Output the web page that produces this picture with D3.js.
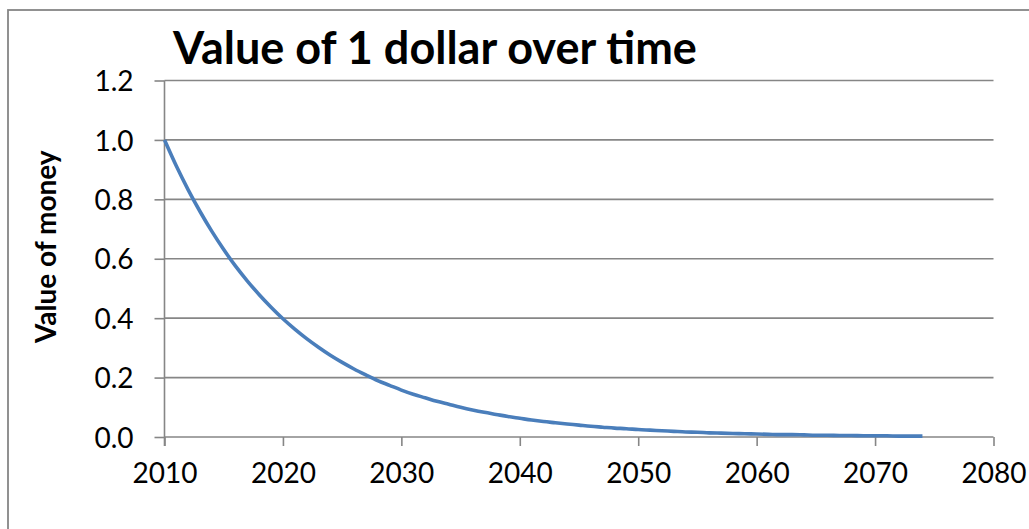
<!DOCTYPE html>
<html>
<head>
<meta charset="utf-8">
<script src="https://cdn.jsdelivr.net/npm/d3@7"></script>
<style>
  html, body { margin: 0; padding: 0; background: #ffffff; }
  svg { display: block; }
  text { font-family: Lato, "Open Sans", sans-serif; fill: #000; }
</style>
</head>
<body>
<svg id="chart" width="1029" height="529"></svg>
<script>
// Value of one dollar, one point per year from 2010 to 2074
const years = d3.range(2010, 2075);
const values = [
  1.000, 0.912, 0.832, 0.759, 0.692, 0.631, 0.575, 0.525, 0.479, 0.437,
  0.398, 0.363, 0.331, 0.302, 0.275, 0.251, 0.229, 0.209, 0.190, 0.174,
  0.158, 0.144, 0.132, 0.120, 0.110, 0.100, 0.091, 0.083, 0.076, 0.069,
  0.063, 0.057, 0.052, 0.048, 0.044, 0.040, 0.036, 0.033, 0.030, 0.028,
  0.025, 0.023, 0.021, 0.019, 0.017, 0.016, 0.014, 0.013, 0.012, 0.011,
  0.010, 0.009, 0.008, 0.008, 0.007, 0.006, 0.006, 0.005, 0.005, 0.004,
  0.004, 0.004, 0.003, 0.003, 0.003
];
const xTicks = [2010, 2020, 2030, 2040, 2050, 2060, 2070, 2080];
const yTicks = [0.0, 0.2, 0.4, 0.6, 0.8, 1.0, 1.2];
const titleText = "Value of 1 dollar over time";
const yAxisTitle = "Value of money";

const svg = d3.select("#chart");
const plot = { left: 164.5, right: 993.5, top: 80.5, bottom: 437 };
const gridColor = "#868686";
const tickFont = 28;

const x = d3.scaleLinear().domain([2010, 2080]).range([plot.left, plot.right]);
const y = d3.scaleLinear().domain([0, 1.2]).range([plot.bottom, plot.top]);

// chart-area frame (runs off the right and bottom edges)
svg.append("rect")
  .attr("x", 8).attr("y", 10)
  .attr("width", 1100).attr("height", 600)
  .attr("fill", "none").attr("stroke", gridColor).attr("stroke-width", 1.8);

// horizontal gridlines
svg.append("g")
  .selectAll("line")
  .data(yTicks.filter(d => d > 0))
  .join("line")
  .attr("x1", plot.left).attr("x2", plot.right)
  .attr("y1", d => y(d)).attr("y2", d => y(d))
  .attr("stroke", gridColor).attr("stroke-width", 1.6);

// y axis
const yAxis = svg.append("g")
  .attr("transform", `translate(${plot.left},0)`)
  .call(d3.axisLeft(y).tickValues(yTicks).tickFormat(d3.format(".1f"))
    .tickSize(10).tickSizeOuter(0).tickPadding(21));
yAxis.select(".domain").attr("stroke", gridColor).attr("stroke-width", 1.6)
  .attr("d", `M0,${plot.top}V${plot.bottom + 9}`);
yAxis.selectAll(".tick line").attr("stroke", gridColor).attr("stroke-width", 1.6);
yAxis.selectAll(".tick text")
  .attr("font-size", tickFont).attr("font-family", "Lato, sans-serif")
  .attr("fill", "#000").attr("dy", "0.36em");

// x axis
const xAxis = svg.append("g")
  .attr("transform", `translate(0,${plot.bottom})`)
  .call(d3.axisBottom(x).tickValues(xTicks).tickFormat(d3.format("d"))
    .tickSize(9).tickSizeOuter(0).tickPadding(17));
xAxis.select(".domain").attr("stroke", gridColor).attr("stroke-width", 1.6)
  .attr("d", `M${plot.left},0H${plot.right}`);
xAxis.selectAll(".tick line").attr("stroke", gridColor).attr("stroke-width", 1.6);
xAxis.selectAll(".tick text")
  .attr("font-size", tickFont).attr("font-family", "Lato, sans-serif")
  .attr("fill", "#000").attr("dy", "0.71em");

// value curve
const line = d3.line()
  .x((d, i) => x(years[i]))
  .y(d => y(d))
  .curve(d3.curveMonotoneX);
svg.append("path")
  .datum(values)
  .attr("d", line)
  .attr("fill", "none")
  .attr("stroke", "#4a7ebb")
  .attr("stroke-width", 3.6)
  .attr("stroke-linejoin", "round");

// chart title
svg.append("text")
  .attr("x", 435).attr("y", 64)
  .attr("text-anchor", "middle")
  .attr("font-size", 45).attr("font-weight", "bold")
  .text(titleText);

// y axis title
svg.append("text")
  .attr("transform", `translate(56,${(plot.top + plot.bottom) / 2 - 12}) rotate(-90)`)
  .attr("text-anchor", "middle")
  .attr("font-size", 28).attr("font-weight", "bold")
  .text(yAxisTitle);
</script>
</body>
</html>
